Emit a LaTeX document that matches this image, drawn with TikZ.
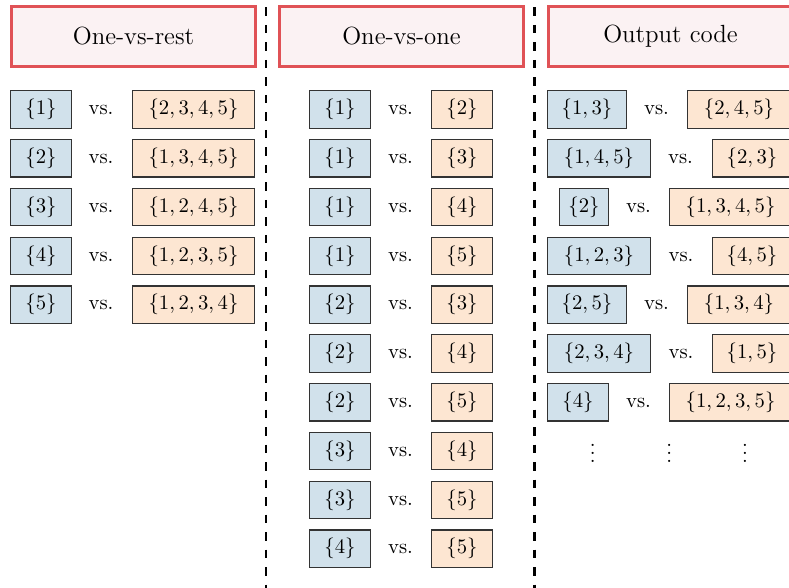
\documentclass[tikz,border=0pt]{standalone}
\definecolor{titlered}{RGB}{224,82,86}
\definecolor{titlefill}{RGB}{251,242,243}
\definecolor{bluefill}{RGB}{209,225,235}
\definecolor{orangefill}{RGB}{253,230,210}
\tikzset{
  titlebox/.style={draw=titlered, fill=titlefill, line width=1.6pt, minimum width=117.7pt, minimum height=28.8pt, inner sep=0pt, font=\large},
  setbox/.style={draw=black!80, line width=0.6pt, inner sep=0pt, minimum height=18pt, text height=7.5pt, text depth=2.5pt},
  bluebox/.style={setbox, fill=bluefill},
  orangebox/.style={setbox, fill=orangefill},
  vstext/.style={inner sep=0pt, text height=7.5pt, text depth=2.5pt},
  dotstext/.style={inner sep=0pt},
  w0/.style={minimum width=23.55pt},
  w1/.style={minimum width=29.35pt},
  w2/.style={minimum width=38.04pt},
  w3/.style={minimum width=49.63pt},
  w4/.style={minimum width=58.81pt},
  separator/.style={draw=black, line width=1pt, dash pattern=on 4.1pt off 4.35pt, dash phase=4.9pt},
}
\begin{document}
\begin{tikzpicture}[x=0.483pt, y=-0.483pt]
\useasboundingbox (0,0) rectangle (789,587);

% separators
\coordinate (s1t) at (266,0);
\coordinate (s1b) at (266,590);
\coordinate (s2t) at (534.5,0);
\coordinate (s2b) at (534.5,590);
\draw[separator] (s1t) -- (s1b);
\draw[separator] (s2t) -- (s2b);

% titles
\node[titlebox] (t1) at (133.5,36.5) {One-vs-rest};
\node[titlebox] (t2) at (401.5,36.5) {One-vs-one};
\node[titlebox] (t3) at (670.5,36.5) {Output code};

% One-vs-rest
\foreach \a/\b [count=\i] in {1/{2,3,4,5}, 2/{1,3,4,5}, 3/{1,2,4,5}, 4/{1,2,3,5}, 5/{1,2,3,4}} {
  \pgfmathsetmacro\yy{109.5+(\i-1)*48.8}
  \node[bluebox, w1] (LB\i) at (41,\yy) {$\{\a\}$};
  \node[vstext] (LV\i) at (101,\yy) {vs.};
  \node[orangebox, w4] (LO\i) at (193.5,\yy) {$\{\b\}$};
}

% One-vs-one
\foreach \a/\b [count=\i] in {1/2, 1/3, 1/4, 1/5, 2/3, 2/4, 2/5, 3/4, 3/5, 4/5} {
  \pgfmathsetmacro\yy{109.5+(\i-1)*48.8}
  \node[bluebox, w1] (MB\i) at (340,\yy) {$\{\a\}$};
  \node[vstext] (MV\i) at (400.5,\yy) {vs.};
  \node[orangebox, w1] (MO\i) at (462,\yy) {$\{\b\}$};
}

% Output code
\foreach \bx/\bw/\ba/\vx/\ox/\ow/\oa [count=\i] in {
  587/w2/{1,3}/656.5/739/w3/{2,4,5},
  599/w3/{1,4,5}/680.5/752/w2/{2,3},
  584/w0/{2}/638.5/730.5/w4/{1,3,4,5},
  599/w3/{1,2,3}/681/752/w2/{4,5},
  587/w2/{2,5}/656.5/739/w3/{1,3,4},
  599/w3/{2,3,4}/681/752/w2/{1,5},
  578/w1/{4}/638.5/730.5/w4/{1,2,3,5}} {
  \pgfmathsetmacro\yy{109.5+(\i-1)*48.8}
  \node[bluebox, \bw] (RB\i) at (\bx,\yy) {$\{\ba\}$};
  \node[vstext] (RV\i) at (\vx,\yy) {vs.};
  \node[orangebox, \ow] (RO\i) at (\ox,\yy) {$\{\oa\}$};
}
\node[dotstext] (d1) at (592.7,447) {$\vdots$};
\node[dotstext] (d2) at (669.3,447) {$\vdots$};
\node[dotstext] (d3) at (745,447) {$\vdots$};
\end{tikzpicture}
\end{document}
